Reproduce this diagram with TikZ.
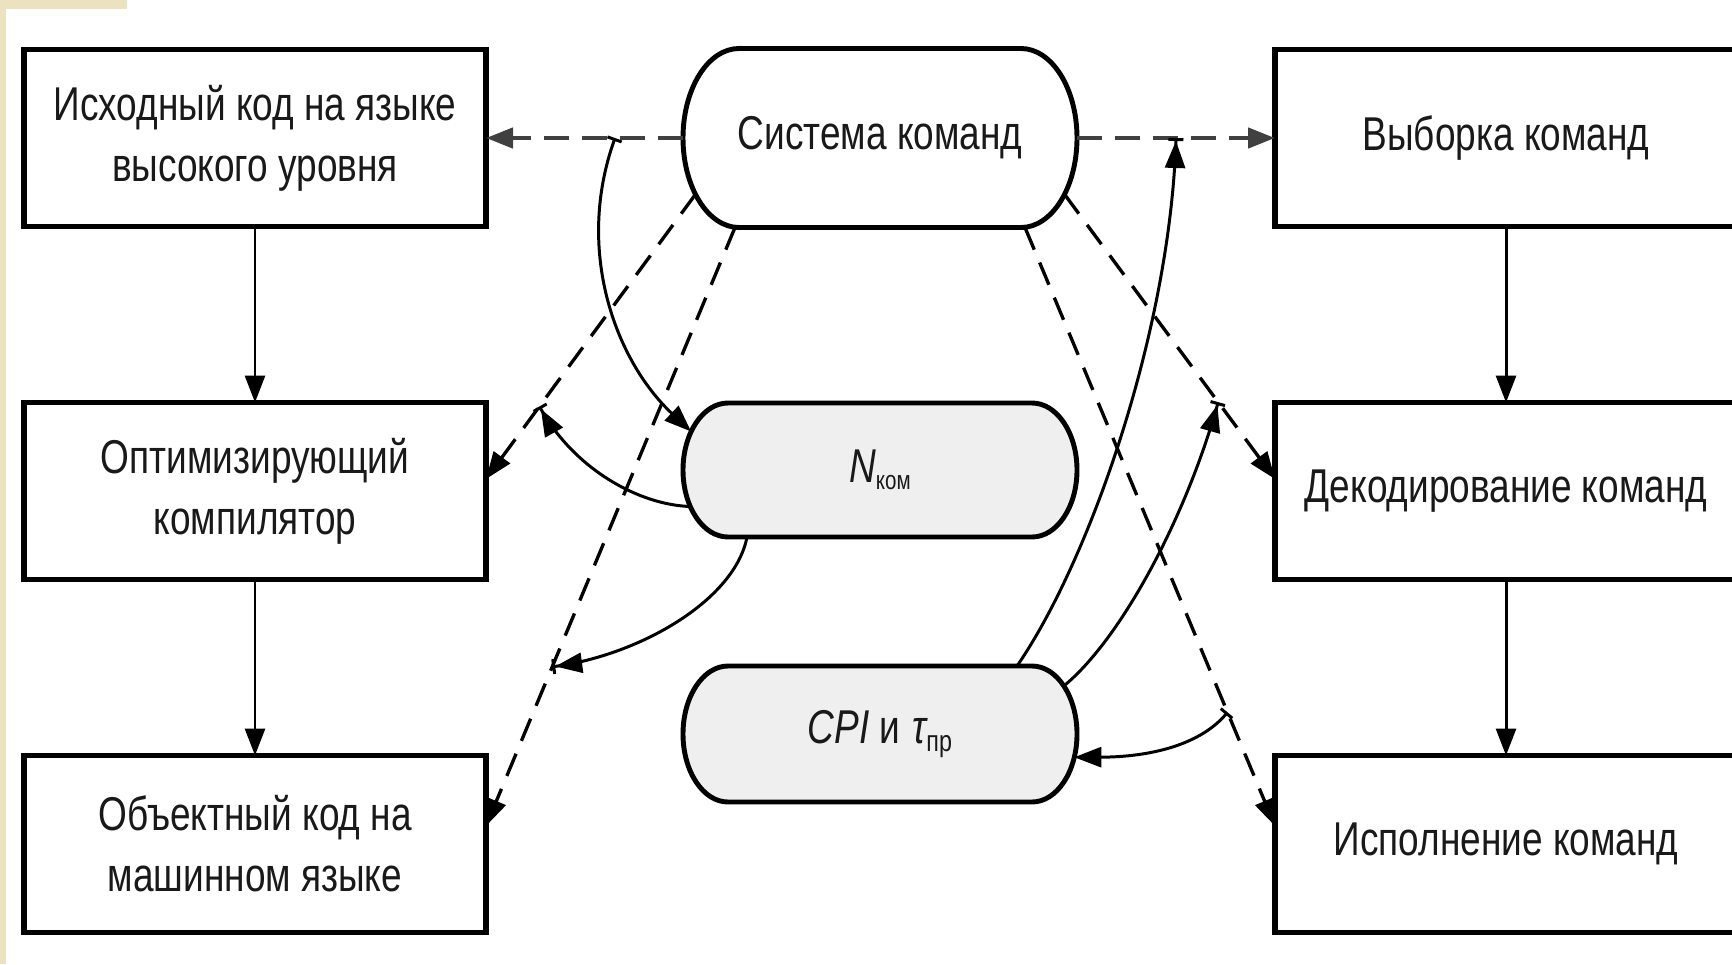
\documentclass[tikz,border=0pt]{standalone}
\usepackage{fontspec}
\newfontfamily\dfont{Liberation Sans}[FakeStretch=0.78]
\usetikzlibrary{arrows.meta,calc,backgrounds}
\definecolor{beige}{RGB}{236,226,192}
\definecolor{pillgray}{RGB}{239,239,239}
\begin{document}
\begin{tikzpicture}[
  txt/.style={font=\dfont\fontsize{13.5pt}{17.4pt}\selectfont, align=center, inner sep=0pt, outer sep=0pt, text=black!90},
  box/.style={txt, draw=black, line width=1.45pt, minimum width=4.62cm, minimum height=1.77cm},
  pilln/.style={txt, minimum width=3.94cm},
  pillline/.style={line width=1.4pt},
  conn/.style={line width=0.85pt},
  dashl/.style={line width=0.95pt, dash pattern=on 0.24cm off 0.14cm},
  dashh/.style={line width=1.3pt, dash pattern=on 0.25cm off 0.13cm, black!75},
  tri/.tip={Triangle[length=0.27cm,width=0.2cm]},
  tick/.tip={Bar[width=0.15cm]}
]
\useasboundingbox (0,0) rectangle (17.32,-9.64);
\clip (0,0) rectangle (17.32,-9.64);

% boxes
\node[box] (A) at (2.55,-1.38) {Исходный код на языке\\высокого уровня};
\node[box] (B) at (2.55,-4.91) {Оптимизирующий\\компилятор};
\node[box] (C) at (2.55,-8.44) {Объектный код на\\машинном языке};
\node[box] (RA) at (15.06,-1.38) {Выборка команд};
\node[box] (RB) at (15.06,-4.91) {Декодирование команд};
\node[box] (RC) at (15.06,-8.44) {Исполнение команд};

% pills (text)
\node[pilln, minimum height=1.79cm] (sys) at (8.80,-1.38) {Система команд};
\node[pilln, minimum height=1.34cm] (N) at (8.80,-4.70) {{\itshape N}\raisebox{-0.07cm}{\fontsize{7.5pt}{9pt}\selectfont ком}};
\node[pilln, minimum height=1.36cm] (CPI) at (8.80,-7.34) {{\itshape CPI} и\hspace{0.12cm}{\itshape τ}\raisebox{-0.08cm}{\fontsize{8.5pt}{9pt}\selectfont пр}};

\begin{pgfonlayer}{background}
  \fill[white] (0,0) rectangle (17.32,-9.64);
  \fill[beige] (0,0) rectangle (0.06,-9.64);
  \fill[beige] (0,0) rectangle (1.27,-0.09);
  \filldraw[pillline, fill=white] ($(sys.north west)+(0.56,0)$) -- ($(sys.north east)+(-0.56,0)$)
    arc[start angle=90,end angle=-90,x radius=0.56cm,y radius=0.895cm]
    -- ($(sys.south west)+(0.56,0)$)
    arc[start angle=270,end angle=90,x radius=0.56cm,y radius=0.895cm] -- cycle;
  \filldraw[pillline, fill=pillgray] ($(N.north west)+(0.45,0)$) -- ($(N.north east)+(-0.45,0)$)
    arc[start angle=90,end angle=-90,x radius=0.45cm,y radius=0.67cm]
    -- ($(N.south west)+(0.45,0)$)
    arc[start angle=270,end angle=90,x radius=0.45cm,y radius=0.67cm] -- cycle;
  \filldraw[pillline, fill=pillgray] ($(CPI.north west)+(0.45,0)$) -- ($(CPI.north east)+(-0.45,0)$)
    arc[start angle=90,end angle=-90,x radius=0.45cm,y radius=0.68cm]
    -- ($(CPI.south west)+(0.45,0)$)
    arc[start angle=270,end angle=90,x radius=0.45cm,y radius=0.68cm] -- cycle;
\end{pgfonlayer}

% named points
\coordinate (s3) at ($(sys.west)+(0.56,0)+(219:0.56cm and 0.895cm)$);
\coordinate (e3) at ($(B.east)+(0,0.12)$);
\coordinate (s4) at ($(sys.south)+(-1.45,0)$);
\coordinate (e4) at ($(C.east)+(0,0.18)$);
\coordinate (s5) at ($(sys.east)+(-0.56,0)+(-39:0.56cm and 0.895cm)$);
\coordinate (e5) at ($(RB.west)+(0,0.12)$);
\coordinate (s6) at ($(sys.south)+(1.45,0)$);
\coordinate (e6) at ($(RC.west)+(0,0.18)$);

\coordinate (c8s) at ($(sys.west)!0.345!(A.east)$);
\coordinate (c8e) at ($(N.west)+(0.45,0)+(145:0.45cm and 0.67cm)$);
\coordinate (c9s) at ($(N.west)+(0.45,0)+(213:0.45cm and 0.67cm)$);
\coordinate (c9e) at ($(s3)!0.745!(e3)$);
\coordinate (c10s) at ($(N.south)+(-1.33,0)$);
\coordinate (c10e) at ($(s4)!0.734!(e4)$);
\coordinate (c11s) at ($(CPI.north)+(1.37,0)$);
\coordinate (c11e) at ($(sys.east)!0.5!(RA.west)$);
\coordinate (c12s) at ($(CPI.east)+(-0.45,0)+(45:0.45cm and 0.68cm)$);
\coordinate (c12e) at ($(s5)!0.73!(e5)$);
\coordinate (c13s) at ($(s6)!0.81!(e6)$);
\coordinate (c13e) at ($(CPI.east)+(-0.45,0)+(-20:0.45cm and 0.68cm)$);

% dashed connectors
\draw[dashh,-{tri[]}] (sys.west) -- (A.east);
\draw[dashh,-{tri[]}] (sys.east) -- (RA.west);
\draw[dashl,-{tri[]}] (s3) -- (e3);
\draw[dashl,-{tri[]}] (s4) -- (e4);
\draw[dashl,-{tri[]}] (s5) -- (e5);
\draw[dashl,-{tri[]}] (s6) -- (e6);

% vertical flow
\draw[conn,-{tri[]}] (A) -- (B);
\draw[conn,-{tri[]}] (B) -- (C);
\draw[conn,-{tri[]}] (RA) -- (RB);
\draw[conn,-{tri[]}] (RB) -- (RC);

% curved influence arrows
\draw[conn,{tick[]}-{tri[]}] (c8s) .. controls (5.75,-2.50) and (6.15,-3.60) .. (c8e);
\draw[conn,-{tri[] tick[]}] (c9s) .. controls (6.40,-5.05) and (5.75,-4.70) .. (c9e);
\draw[conn,-{tri[] tick[]}] (c10s) .. controls (7.35,-6.00) and (6.40,-6.55) .. (c10e);
\draw[conn,-{tri[] tick[]}] (c11s) .. controls (10.90,-5.60) and (11.70,-3.30) .. (c11e);
\draw[conn,-{tri[] tick[]}] (c12s) .. controls (11.20,-6.40) and (11.85,-5.20) .. (c12e);
\draw[conn,{tick[]}-{tri[]}] (c13s) .. controls (12.00,-7.45) and (11.50,-7.57) .. (c13e);
\end{tikzpicture}
\end{document}
